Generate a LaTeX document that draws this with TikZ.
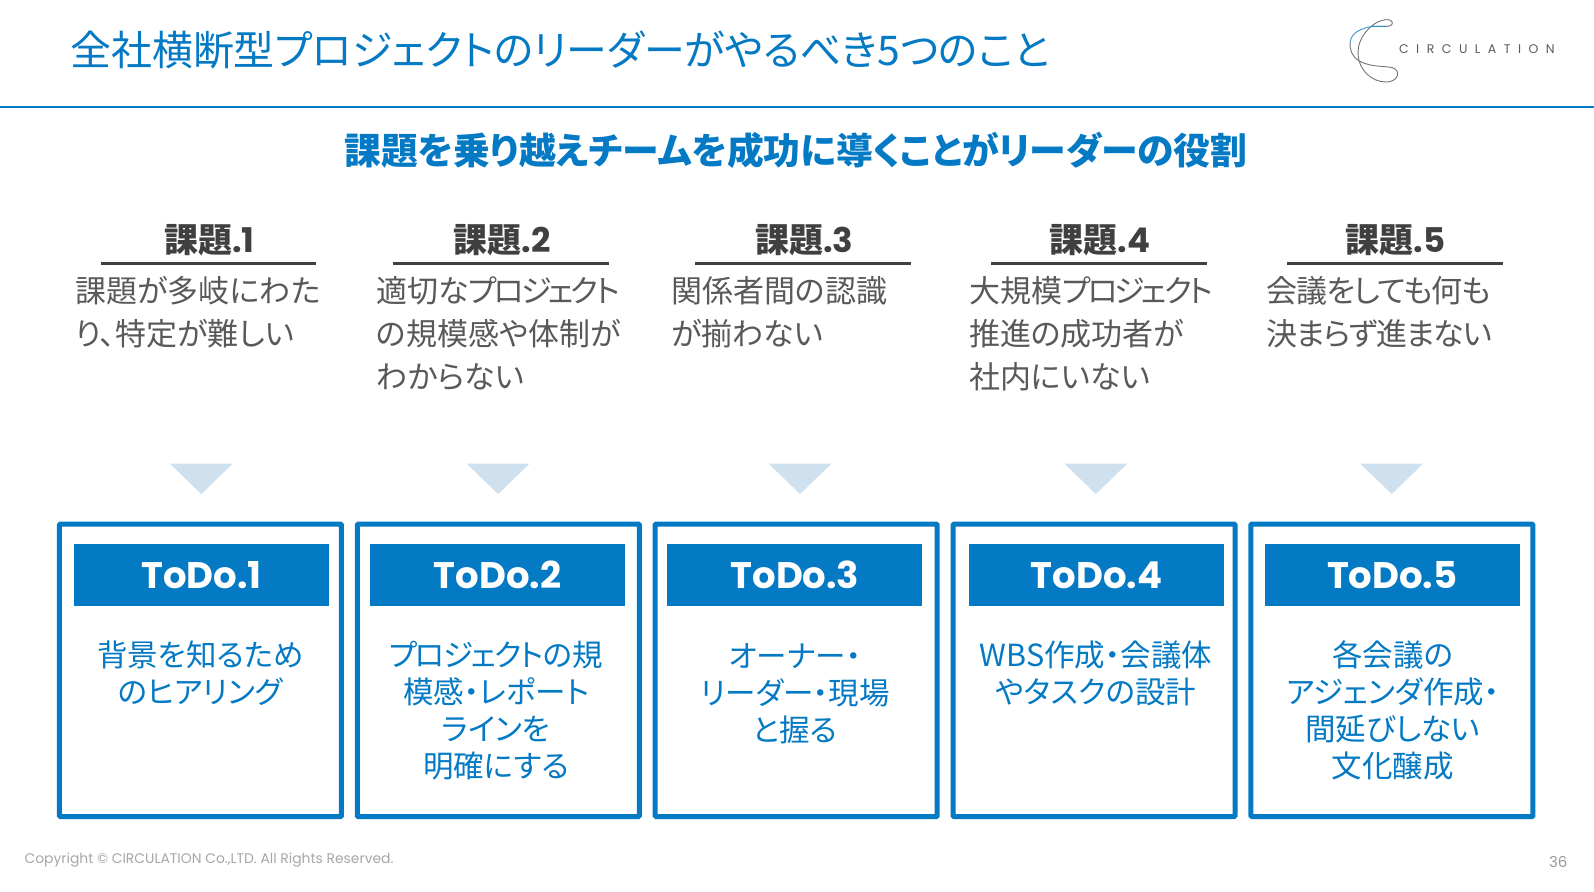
\documentclass[tikz,border=0pt]{standalone}
\usepackage{fontspec}
\setmainfont[RawFeature=+palt]{Noto Sans CJK JP}
\newfontfamily\lat{Poppins}
\newcommand{\tighta}[1]{{\addfontfeature{LetterSpace=-10}#1}}
\newcommand{\tightb}[1]{{\addfontfeature{LetterSpace=-6}#1}}
\newcommand{\tightc}[1]{{\addfontfeature{LetterSpace=-4}#1}}
\definecolor{cblue}{HTML}{0479C4}
\definecolor{ctxt}{HTML}{595959}
\definecolor{cdark}{HTML}{404040}
\definecolor{ctri}{HTML}{CFE0EF}
\tikzset{
 x=1.01658pt,y=-1.01658pt,
 kbox/.style={draw=cblue,line width=5pt,rounded corners=1pt,fill=white,anchor=north west,minimum width=282pt,minimum height=292.5pt,inner sep=0pt,outer sep=0pt},
 khead/.style={fill=cblue,text=white,minimum width=255pt,minimum height=62pt,inner sep=0pt,font=\lat\bfseries\fontsize{37}{37}\selectfont},
 ktodo/.style={text=cblue,align=center,anchor=north,inner sep=0pt,font=\fontsize{30.5}{37}\selectfont},
 kissue/.style={text=ctxt,align=left,anchor=north west,inner sep=0pt,font=\fontsize{31}{42.7}\selectfont},
 klabel/.style={text=cdark,inner sep=0pt,font=\bfseries\fontsize{34}{34}\selectfont},
 krule/.style={draw=cdark,line width=2.6pt},
 ktri/.style={fill=ctri},
}
\begin{document}
\begin{tikzpicture}
\useasboundingbox (0,0) rectangle (1568,877.4);
\node[anchor=west,inner sep=0pt,text=cblue,font=\fontsize{40.9}{42}\selectfont] (title) at (69,49) {全社横断型プロジェクトのリーダーがやるべき5つのこと};
\coordinate (ruleL) at (0,105.5); \coordinate (ruleR) at (1568,105.5);
\draw[cblue,line width=1.6pt] (ruleL) -- (ruleR);
\node[anchor=center,inner sep=0pt,text=cblue,font=\bfseries\fontsize{36.8}{38}\selectfont] (sub) at (783,148) {課題を乗り越えチームを成功に導くことがリーダーの役割};
% logo
\begin{scope}[shift={(1278.7,0)},x=0.339pt,y=-0.339pt]
\draw[gray!90!black,line width=0.9pt] (210,78) -- (255,78) .. controls (272,78) and (276,68) .. (270,62) .. controls (258,52) and (228,62) .. (210,78) .. controls (185,100) and (168,130) .. (172,165) .. controls (175,205) and (210,242) .. (255,242) .. controls (285,242) and (298,215) .. (280,203) .. controls (265,192) and (215,202) .. (175,180) .. controls (155,168) and (145,145) .. (148,125);
\draw[cblue!80,line width=0.9pt] (148,125) .. controls (152,95) and (180,85) .. (210,78) -- (255,78);
\end{scope}
\node[anchor=west,inner sep=0pt,text=ctxt,font=\lat\fontsize{12.5}{13}\selectfont] (logo) at (1376,48) {C\hspace{0.6em}I\hspace{0.6em}R\hspace{0.6em}C\hspace{0.6em}U\hspace{0.6em}L\hspace{0.6em}A\hspace{0.6em}T\hspace{0.6em}I\hspace{0.6em}O\hspace{0.6em}N};
% issues
\node[klabel] (l1) at (206,236) {課題{\lat .1}};
\node[klabel] (l2) at (494,236) {課題{\lat .2}};
\node[klabel] (l3) at (791,236) {課題{\lat .3}};
\node[klabel] (l4) at (1082,236) {課題{\lat .4}};
\node[klabel] (l5) at (1373,236) {課題{\lat .5}};
\draw[krule] (99,259) -- (311,259);
\draw[krule] (387,259) -- (599,259);
\draw[krule] (684,259) -- (896,259);
\draw[krule] (975,259) -- (1187,259);
\draw[krule] (1266,259) -- (1478,259);
\node[kissue] (i1) at (74,272) {課題が多岐にわた\\り、特定が難しい};
\node[kissue] (i2) at (370,272) {適切な\tighta{プロジェクト}\\の規模感や体制が\\わからない};
\node[kissue] (i3) at (660,272) {関係者間の認識\\が揃わない};
\node[kissue] (i4) at (953,272) {大規模\tighta{プロジェクト}\\推進の成功者が\\社内にいない};
\node[kissue] (i5) at (1246,272) {\tightc{会議をしても何も}\\\tightc{決まらず進まない}};
% triangles
\foreach \c in {198,490,787,1078,1369}
  \fill[ktri] (\c-31,456) -- (\c+31,456) -- (\c,486) -- cycle;
% boxes
\node[kbox] (b1) at (58.5,515.5) {};
\node[kbox] (b2) at (351.5,515.5) {};
\node[kbox] (b3) at (644.5,515.5) {};
\node[kbox] (b4) at (937.5,515.5) {};
\node[kbox] (b5) at (1230.5,515.5) {};
\node[khead] (h1) at (198,565.5) {ToDo.1};
\node[khead] (h2) at (489.5,565.5) {ToDo.2};
\node[khead] (h3) at (782,565.5) {ToDo.3};
\node[khead] (h4) at (1078.5,565.5) {ToDo.4};
\node[khead] (h5) at (1369.5,565.5) {ToDo.5};
\node[ktodo] (t1) at (197,630) {背景を知るため\\のヒアリング};
\node[ktodo] (t2) at (488,630) {\tightb{プロジェクト}の規\\模感・レポート\\ラインを\\明確にする};
\node[ktodo] (t3) at (782,632.5) {オーナー・\\リーダー・現場\\と握る};
\node[ktodo] (t4) at (1078,630) {WBS作成・会議体\\やタスクの設計};
\node[ktodo] (t5) at (1370,630) {各会議の\\アジェンダ作成・\\間延びしない\\文化醸成};
\node[anchor=west,inner sep=0pt,text=black!35,font=\lat\fontsize{13.9}{14}\selectfont] (copy) at (24,846) {Copyright © CIRCULATION Co.,LTD. All Rights Reserved.};
\node[anchor=east,inner sep=0pt,text=black!40,font=\lat\fontsize{15}{15}\selectfont] (pg) at (1542,848) {36};
\end{tikzpicture}
\end{document}
